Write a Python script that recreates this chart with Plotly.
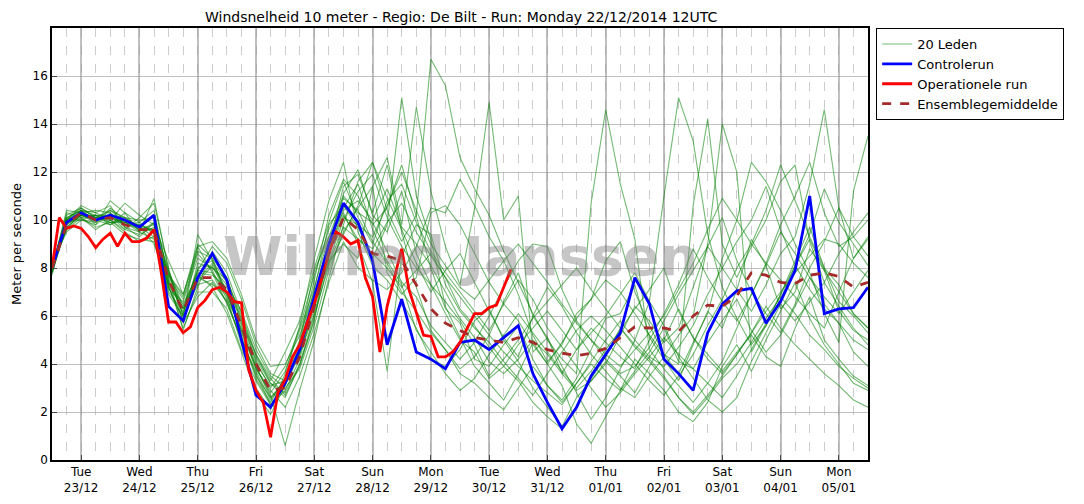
import plotly.graph_objects as go

day_labels = ["Tue<br>23/12", "Wed<br>24/12", "Thu<br>25/12", "Fri<br>26/12", "Sat<br>27/12",
              "Sun<br>28/12", "Mon<br>29/12", "Tue<br>30/12", "Wed<br>31/12", "Thu<br>01/01",
              "Fri<br>02/01", "Sat<br>03/01", "Sun<br>04/01", "Mon<br>05/01"]
day_hours = [12 + 24 * i for i in range(14)]

controlrun = [8.0, 9.9, 10.3, 10.0, 10.2, 10.0, 9.7, 10.2, 6.4, 5.8, 7.6, 8.6, 7.5, 5.0, 2.7, 2.2, 3.2, 4.6,
              6.8, 9.0, 10.7, 9.9, 8.3, 4.8, 6.7, 4.5, 4.2, 3.8, 4.9, 5.0, 4.6, 5.1, 5.6, 3.6, 2.4, 1.3, 2.2,
              3.5, 4.4, 5.3, 7.6, 6.5, 4.2, 3.6, 2.9, 5.3, 6.5, 7.05, 7.15, 5.7, 6.6, 7.9, 11.0, 6.1, 6.3,
              6.35, 7.2]
operationeel = [8.0, 10.1, 9.65, 9.75, 9.65, 9.3, 8.85, 9.2, 9.45, 8.9, 9.45, 9.1, 9.1, 9.25, 9.6, 7.8,
                5.75, 5.75, 5.3, 5.55, 6.35, 6.65, 7.1, 7.2, 7.0, 6.6, 6.55, 3.75, 2.9, 2.4, 0.95, 2.8,
                3.35, 4.3, 4.8, 5.7, 6.5, 7.6, 8.6, 9.5, 9.3, 9.0, 9.15, 7.6, 6.8, 4.5, 6.4, 7.6, 8.8,
                7.1, 6.1, 5.2, 5.15, 4.3, 4.3, 4.5, 4.9, 5.5, 6.1, 6.1, 6.35, 6.45, 7.2, 7.95]
gemiddelde = [8.0, 9.8, 10.3, 10.0, 10.1, 9.8, 9.6, 9.6, 7.5, 6.2, 7.6, 7.6, 7.1, 5.6, 4.0, 2.9, 3.0, 4.3,
              6.4, 8.6, 10.1, 9.6, 8.6, 8.5, 8.3, 7.3, 6.3, 5.7, 5.4, 5.1, 5.0, 4.9, 5.1, 4.9, 4.6, 4.45,
              4.35, 4.45, 4.65, 5.1, 5.55, 5.5, 5.5, 5.35, 6.0, 6.45, 6.4, 6.85, 7.8, 7.7, 7.4, 7.35, 7.7,
              7.8, 7.65, 7.2, 7.4]

m1 = [7.8,10.2,10.5,10.1,10.4,9.9,9.5,10.9,7.9,6.0,8.9,7.8,6.5,5.1,3.5,2.6,3.3,4.9,7.5,10.2,11.7,11.0,9.8,10.5,12.3,10.1,8.0,6.3,5.7,4.2,3.9,4.8,5.6,4.2,3.1,2.5,3.4,4.6,5.9,6.1,7.3,5.1,4.2,3.3,4.8,6.2,5.5,7.1,9.2,8.1,6.3,7.0,8.8,7.9,6.2,5.4,5.0]
m2 = [8.1,9.6,10.1,9.7,9.9,9.4,9.2,9.1,7.1,6.6,8.4,8.0,7.3,6.2,4.6,3.5,3.0,3.8,5.6,7.9,9.5,10.5,11.4,12.6,9.8,14.7,11.2,8.9,7.3,10.5,14.9,10.0,11.0,4.5,5.1,3.6,2.9,3.3,4.0,5.2,6.4,5.8,4.9,5.5,7.2,8.9,10.1,8.3,7.0,6.1,5.3,6.5,8.0,9.1,10.5,9.3,8.5]
m3 = [7.9,10.0,10.6,10.3,10.0,10.7,10.2,9.8,8.3,6.9,9.0,8.4,6.8,4.8,3.0,2.1,3.6,5.6,8.4,10.8,12.4,9.5,8.1,7.5,6.6,5.5,4.2,3.9,4.6,5.8,6.3,5.0,4.1,3.0,2.2,1.4,2.6,3.3,4.1,3.5,2.8,3.9,5.0,6.3,5.1,4.4,3.7,4.5,5.2,4.3,3.9,5.5,6.8,5.0,4.2,3.5,3.1]
m4 = [8.0,9.7,10.2,9.9,10.4,10.1,9.7,10.2,7.6,5.4,7.2,8.7,7.8,6.1,4.4,3.2,2.8,4.0,6.0,8.1,9.4,10.6,12.4,10.4,9.1,10.2,16.7,15.6,12.6,11.3,10.2,8.7,7.4,6.1,5.0,4.2,3.6,10.7,14.6,11.5,9.2,4.6,3.8,3.1,2.4,3.2,4.1,5.5,6.9,8.2,9.8,11.0,12.4,10.3,8.9,9.3,10.0]
m5 = [7.7,10.1,10.4,10.3,10.6,9.7,9.3,9.9,7.2,5.9,7.9,8.9,8.2,6.7,4.8,3.6,3.3,4.4,6.3,8.8,11.4,11.9,10.3,12.3,9.5,7.2,5.4,4.6,3.8,4.3,5.2,6.6,7.8,6.0,5.1,3.9,2.8,1.7,2.6,3.8,5.0,6.6,11.0,15.1,13.3,9.4,7.2,5.9,4.8,5.6,6.9,8.3,9.7,8.0,6.6,6.0,5.3]
m6 = [8.2,9.5,10.0,10.2,9.8,10.3,9.9,9.4,7.8,6.3,7.4,8.1,6.9,5.3,3.8,2.9,2.2,3.5,5.3,7.4,9.1,8.0,7.5,7.1,7.8,8.9,10.5,10.3,11.7,10.6,9.3,8.3,6.9,5.2,4.1,4.8,6.1,6.7,8.3,9.1,7.0,5.6,4.4,3.6,4.9,6.1,8.4,10.0,12.4,11.6,10.4,9.0,7.8,6.1,4.9,11.2,13.5]
m7 = [7.9,9.9,10.2,10.0,10.1,9.9,9.8,9.6,7.4,6.5,7.7,7.2,6.1,4.5,2.8,1.9,3.1,4.8,7.1,9.8,10.6,9.7,8.4,9.8,15.1,11.0,9.2,6.4,5.1,3.9,3.2,2.5,3.6,4.9,4.0,3.1,1.5,0.7,1.8,2.9,4.2,3.6,2.9,2.0,1.6,2.4,3.9,4.8,3.7,5.0,6.2,7.4,5.9,4.8,4.0,3.2,2.9]
m8 = [8.0,10.3,10.1,9.6,10.0,9.5,9.1,9.3,6.9,6.0,9.4,8.3,7.0,5.4,3.9,2.7,0.6,2.9,5.0,7.6,9.8,11.6,12.4,10.9,9.6,8.2,7.0,7.9,8.6,7.4,6.2,5.1,4.3,6.0,7.2,6.4,5.3,4.4,3.7,3.0,2.6,3.5,4.3,5.2,6.0,9.0,14.0,12.0,4.5,5.6,6.7,8.1,9.4,11.3,9.9,9.0,8.1]
m9 = [7.8,9.8,10.4,10.2,10.2,9.6,10.1,10.7,8.0,5.7,6.8,7.4,6.6,5.0,3.7,2.5,3.4,5.0,7.9,9.3,10.9,10.4,9.1,8.2,7.0,6.2,5.3,4.6,3.6,3.2,2.6,2.1,3.0,3.9,3.1,2.4,3.2,4.0,3.4,2.9,3.7,4.5,5.5,4.1,3.8,4.9,5.8,6.7,5.4,4.5,5.2,6.4,7.6,6.5,5.7,4.5,3.9]
m10 = [8.2,9.9,10.0,9.8,10.8,10.3,9.5,9.2,7.7,6.8,8.9,9.1,8.4,6.9,5.0,3.9,4.0,5.2,7.0,8.3,9.0,8.4,11.4,7.8,6.9,7.6,10.3,10.6,9.8,8.6,7.4,6.5,5.8,4.8,4.0,4.9,5.9,6.7,7.5,7.0,6.1,5.2,4.4,4.0,10.6,14.2,9.0,7.6,8.9,10.0,11.6,12.3,9.1,7.4,8.6,9.5,10.3]
m11 = [7.9,10.0,10.5,10.1,9.9,10.0,9.7,9.0,7.3,5.5,7.0,7.0,6.3,4.6,3.3,2.3,3.1,4.4,6.1,8.5,11.1,12.1,10.2,9.5,11.2,8.6,7.3,6.1,5.0,4.5,3.4,3.9,4.8,5.5,6.2,5.4,4.6,5.3,6.0,6.9,7.8,6.6,5.6,4.3,3.4,2.5,2.0,2.6,4.1,5.3,6.5,5.8,6.6,7.4,6.4,5.5,4.8]
m12 = [8.0,9.6,10.3,10.4,10.3,9.8,9.9,10.4,7.5,6.1,8.0,8.3,7.4,5.7,4.2,3.2,2.6,4.0,5.8,8.9,10.2,9.2,8.8,9.9,10.7,9.5,8.5,7.6,6.3,5.6,4.7,3.9,3.3,2.4,1.8,1.3,2.2,3.4,4.3,5.5,4.7,4.1,3.4,2.6,1.9,2.6,3.4,4.0,4.9,5.9,6.8,6.1,5.2,4.6,3.9,3.4,3.0]
m13 = [7.9,10.4,10.3,10.1,10.0,9.6,9.4,9.7,7.9,6.4,7.8,7.7,7.2,5.9,4.1,3.0,3.9,5.5,7.7,9.6,11.0,10.3,9.9,8.7,7.4,6.8,5.6,4.9,4.2,4.9,6.0,7.2,8.3,9.0,8.9,7.1,5.8,5.0,4.2,3.6,3.9,4.7,5.8,6.9,7.9,8.9,8.0,7.1,6.2,7.3,8.6,9.3,11.5,14.6,10.5,8.4,9.2]
m14 = [8.1,10.1,10.0,9.9,10.5,10.0,9.6,9.8,7.0,6.2,7.5,8.2,7.0,5.2,3.4,2.4,3.4,4.6,6.9,9.1,10.5,11.5,9.6,8.3,7.3,5.4,4.5,3.6,2.9,3.4,4.4,5.2,6.1,5.3,4.5,3.7,3.0,3.7,4.6,5.4,6.3,7.1,8.0,6.2,5.1,4.2,3.6,4.4,5.3,6.4,5.5,4.8,4.2,3.6,3.1,2.5,2.2]
m15 = [7.8,9.7,10.2,10.2,10.1,9.9,9.8,9.5,7.6,6.7,8.6,7.9,6.7,5.5,3.8,2.8,3.7,5.4,7.2,9.3,10.3,9.0,7.4,3.7,8.5,9.8,9.4,7.3,6.2,5.5,4.9,4.1,3.4,2.7,3.6,4.5,5.4,6.0,5.4,4.7,4.0,3.3,2.7,3.5,4.4,5.6,6.7,8.0,9.0,10.4,12.3,10.8,9.3,8.0,7.3,6.1,5.5]
m16 = [8.0,10.0,10.4,10.0,9.8,10.1,10.0,10.1,7.8,6.0,7.3,7.5,6.6,5.0,3.6,2.3,2.9,4.2,6.6,8.8,10.4,10.8,10.0,11.3,9.7,9.0,8.1,7.0,5.9,5.1,4.1,3.6,4.2,5.0,4.4,3.6,4.6,5.5,4.9,4.3,3.8,5.0,6.1,7.3,8.8,7.6,6.6,5.8,6.9,8.1,9.5,8.6,7.6,6.8,6.1,7.0,7.9]
m17 = [7.9,9.9,10.1,10.2,9.9,9.9,9.6,9.6,7.2,5.8,8.2,8.0,7.5,6.0,4.3,3.3,4.5,5.8,8.0,9.9,11.6,10.1,9.0,10.8,11.5,9.9,8.7,7.8,7.0,6.2,5.4,6.5,7.5,6.7,5.5,4.7,3.9,3.0,2.2,2.8,3.6,4.3,5.1,4.4,3.8,3.2,2.6,3.5,4.6,5.7,6.9,8.1,9.2,7.9,7.0,6.1,5.5]
m18 = [8.1,10.1,10.4,9.8,10.3,9.7,9.5,9.9,7.4,6.3,7.6,7.3,6.9,5.4,3.9,2.6,3.2,4.6,6.7,8.2,9.7,9.2,8.6,8.0,7.2,7.9,8.6,7.6,6.8,6.0,5.2,4.5,3.9,3.3,2.8,2.3,3.2,4.1,5.0,5.8,5.0,4.3,3.9,4.7,5.6,6.9,8.0,9.1,10.0,11.4,9.6,8.1,7.1,6.3,5.7,5.0,4.6]
m19 = [7.8,10.0,10.3,10.1,10.2,10.1,9.7,9.3,7.7,6.9,8.7,8.4,7.6,5.8,4.4,3.4,2.7,3.9,5.9,8.3,10.0,11.2,11.9,10.1,8.9,8.0,7.3,6.6,5.8,4.8,3.5,4.2,5.0,5.9,6.6,7.3,8.0,7.1,6.3,5.5,4.8,4.2,3.5,2.6,2.0,2.7,3.5,4.4,5.3,6.2,7.0,7.8,8.5,9.2,9.0,8.2,7.6]
m20 = [8.0,9.8,10.2,10.0,10.1,9.8,9.7,9.6,7.3,6.3,7.9,7.8,7.0,5.6,4.0,3.1,3.3,4.5,6.5,8.7,10.1,9.8,9.3,10.6,12.0,10.4,9.0,8.1,7.2,6.7,7.5,8.3,9.0,8.2,7.4,6.5,5.7,5.0,4.4,3.9,4.6,5.3,6.0,7.1,8.2,9.6,10.9,10.0,9.0,8.2,7.5,6.8,6.1,5.5,7.0,8.4,9.3]
members = [m1, m2, m3, m4, m5, m6, m7, m8, m9, m10, m11, m12, m13, m14, m15, m16, m17, m18, m19, m20]

hours6 = [6 * i for i in range(80)]
hours3 = [3 * i for i in range(120)]

fig = go.Figure()
for i, m in enumerate(members):
    fig.add_trace(go.Scatter(x=hours6[:len(m)], y=m, mode="lines", name="20 Leden",
                             line=dict(color="rgba(0,128,0,0.55)", width=1.1),
                             showlegend=(i == 0), legendgroup="leden"))
fig.add_trace(go.Scatter(x=hours6[:len(controlrun)], y=controlrun, mode="lines", name="Controlerun",
                         line=dict(color="#0000ff", width=2.8)))
fig.add_trace(go.Scatter(x=hours3[:len(operationeel)], y=operationeel, mode="lines", name="Operationele run",
                         line=dict(color="#ff0000", width=2.8)))
fig.add_trace(go.Scatter(x=hours6[:len(gemiddelde)], y=gemiddelde, mode="lines", name="Ensemblegemiddelde",
                         line=dict(color="#a52a2a", width=2.8, dash="dash")))

fig.add_annotation(x=0.5, y=0.47, xref="paper", yref="paper", text="<b>Wilfred Janssen</b>",
                   showarrow=False, font=dict(size=54, color="rgba(128,128,128,0.45)", family="DejaVu Sans"))

fig.update_layout(
    width=1084, height=504, margin=dict(l=44, r=224, t=20, b=52),
    paper_bgcolor="white", plot_bgcolor="white",
    font=dict(family="DejaVu Sans", size=12, color="black"),
    title=dict(text="Windsnelheid 10 meter - Regio: De Bilt - Run: Monday 22/12/2014 12UTC",
               x=0.418, xanchor="center", y=0.982, yanchor="middle", font=dict(size=14)),
    legend=dict(x=1.01, y=1.0, xanchor="left", yanchor="top", bordercolor="black", borderwidth=1,
                font=dict(size=13), bgcolor="white", tracegroupgap=0),
    showlegend=True,
)
fig.update_xaxes(range=[0, 336], tickvals=day_hours, ticktext=day_labels, ticks="inside", ticklen=5,
                 automargin=False,
                 showgrid=True, gridcolor="rgba(150,150,150,0.6)", gridwidth=1.5,
                 showline=True, linecolor="black", linewidth=1.5, mirror=True, zeroline=False,
                 minor=dict(dtick=6, tick0=0, showgrid=True, gridcolor="rgba(170,170,170,0.6)",
                            griddash="dash", gridwidth=1))
fig.update_yaxes(range=[0, 18], tickvals=list(range(0, 18, 2)), ticks="inside", ticklen=5,
                 automargin=False,
                 showgrid=True, gridcolor="rgba(150,150,150,0.6)", gridwidth=1.2,
                 showline=True, linecolor="black", linewidth=1.5, mirror=True, zeroline=False,
                 title=dict(text="Meter per seconde", font=dict(size=13), standoff=8))

fig.write_html("out.html")
